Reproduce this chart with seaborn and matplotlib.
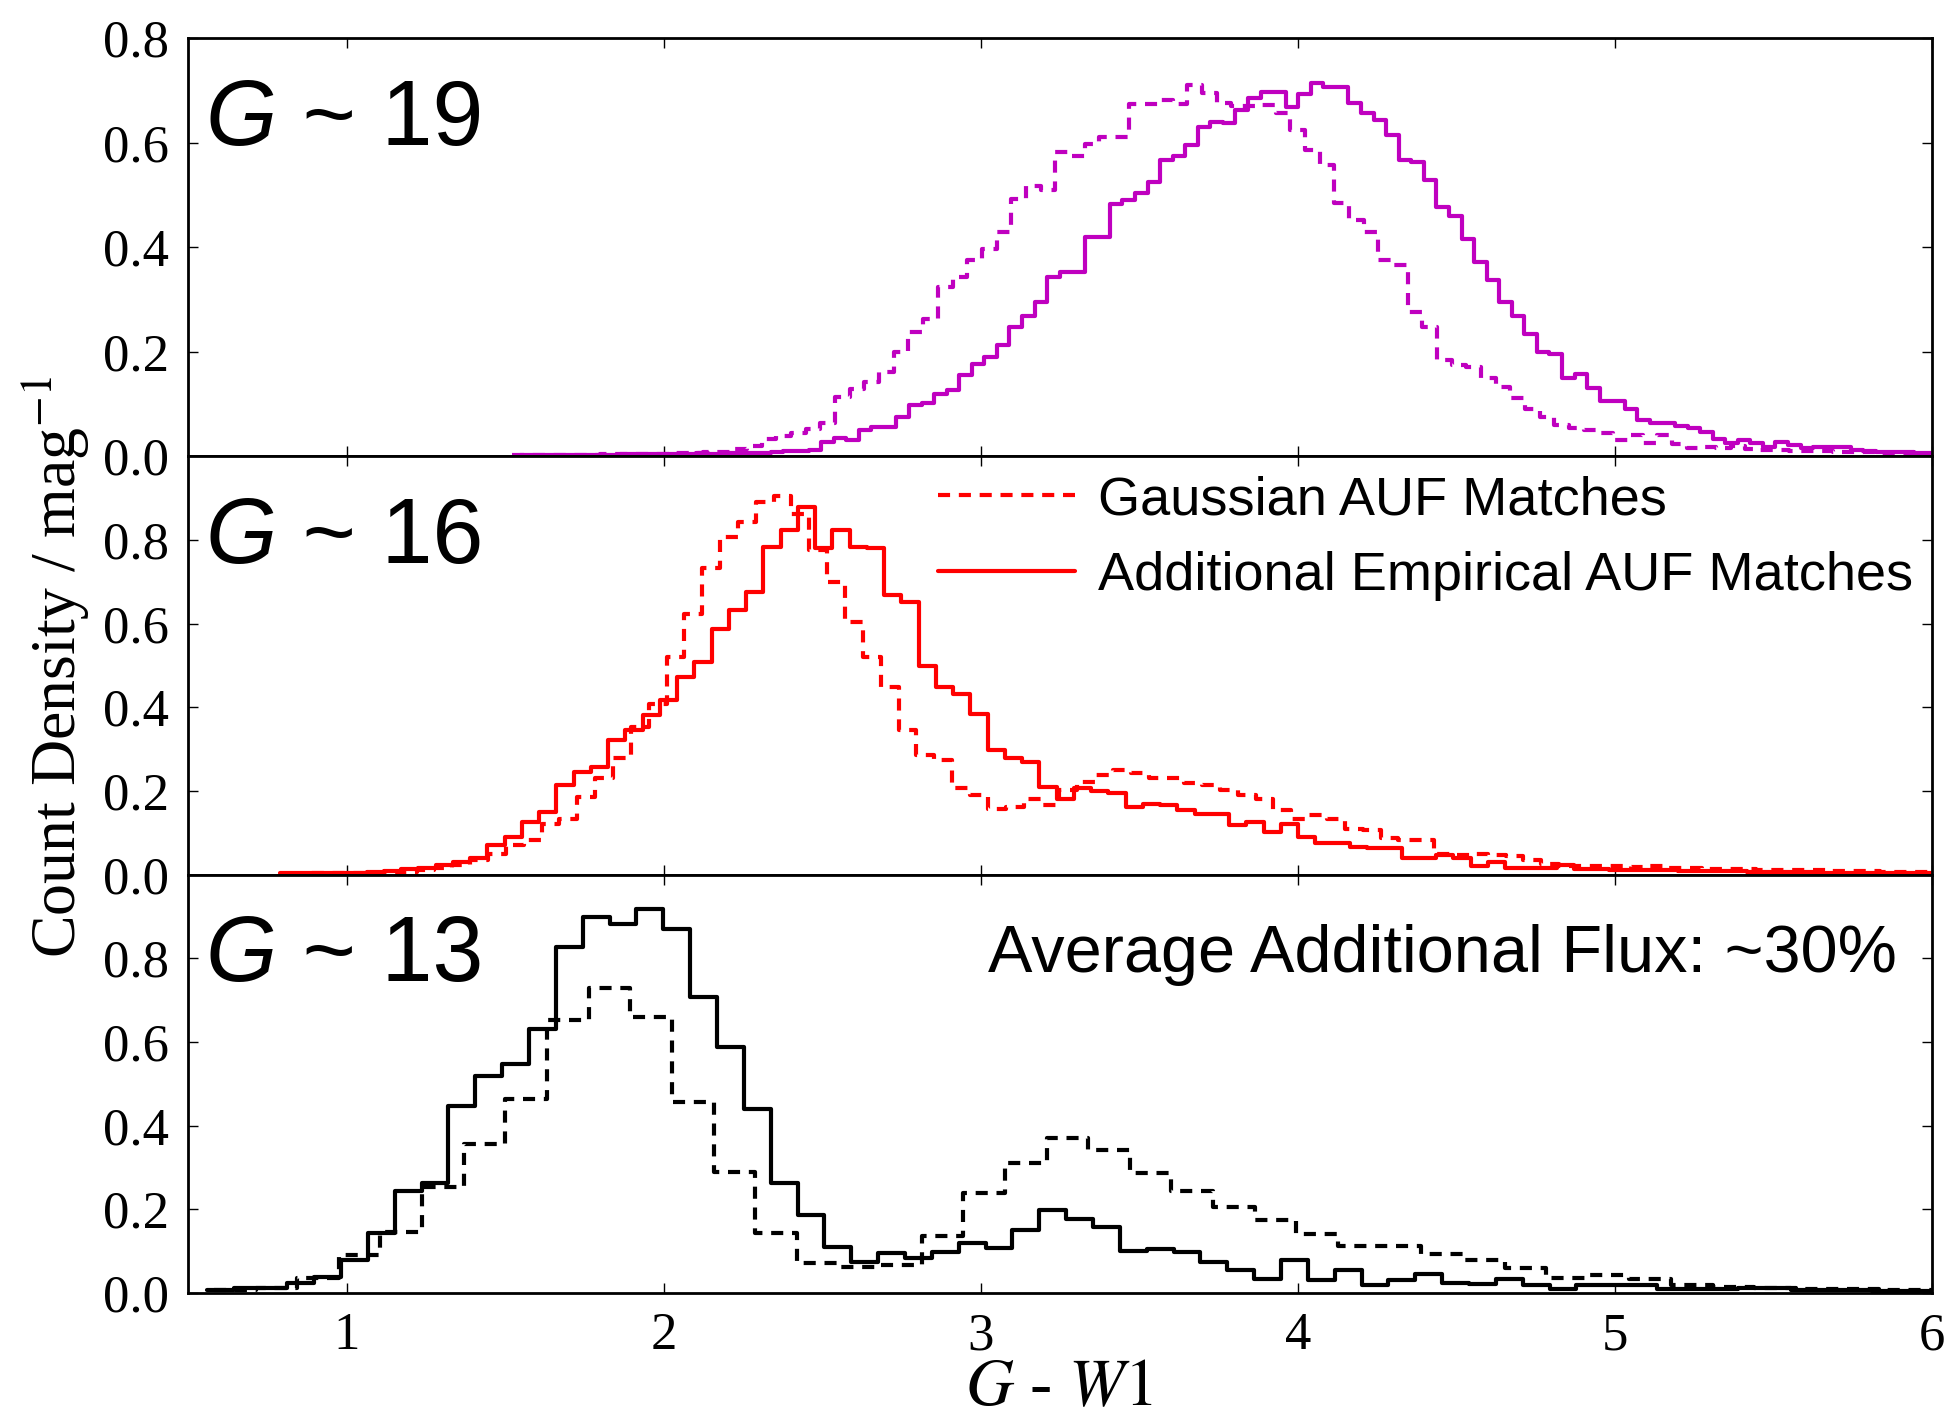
import numpy as np
import pandas as pd
import matplotlib
matplotlib.use("Agg")
import matplotlib.pyplot as plt
from matplotlib.lines import Line2D
import seaborn as sns

# ---------------- data ----------------
x_ticks = [1, 2, 3, 4, 5, 6]
y_ticks = [0.0, 0.2, 0.4, 0.6, 0.8]
panel_mags = ["19", "16", "13"]
legend_labels = ["Gaussian AUF Matches", "Additional Empirical AUF Matches"]
flux_note = "Average Additional Flux: ~30%"

# G ~ 19, additional empirical AUF matches (solid)
g19_emp_start, g19_emp_width = 1.5462, 0.0396
g19_emp = [0.002, 0.002, 0.002, 0.003, 0.002, 0.003, 0.003, 0.003, 0.004,
           0.004, 0.004, 0.005, 0.004, 0.005, 0.006, 0.005, 0.006,
           0.007, 0.006, 0.007, 0.008,
           0.010, 0.011, 0.012,
           0.027, 0.036, 0.032, 0.050, 0.056, 0.057, 0.075, 0.098, 0.102, 0.120,
           0.126, 0.155, 0.177, 0.190,
           0.212, 0.247, 0.268, 0.295, 0.343, 0.353, 0.353, 0.419, 0.419, 0.482,
           0.490, 0.503, 0.525, 0.567, 0.574, 0.595, 0.630, 0.640, 0.637, 0.663,
           0.686, 0.697, 0.697, 0.669, 0.692, 0.713, 0.707, 0.707, 0.676, 0.657,
           0.644, 0.614, 0.567, 0.563, 0.528, 0.477, 0.460, 0.415, 0.372, 0.337,
           0.295, 0.268, 0.233, 0.200, 0.195, 0.149, 0.157, 0.130, 0.106, 0.106,
           0.091, 0.069, 0.064, 0.064, 0.058, 0.054, 0.047, 0.034, 0.025, 0.031,
           0.025, 0.018, 0.028, 0.022, 0.015, 0.018, 0.018, 0.018, 0.013, 0.010,
           0.009, 0.009, 0.008, 0.007, 0.006]

# G ~ 19, Gaussian AUF matches (dashed)
g19_gau_start, g19_gau_width = 1.5221, 0.0463
g19_gau = [0.002, 0.002, 0.003, 0.002, 0.003, 0.003, 0.004, 0.004, 0.004, 0.005,
           0.005, 0.006, 0.007,
           0.008, 0.009, 0.014, 0.019, 0.033, 0.039, 0.044, 0.053, 0.063, 0.114,
           0.129, 0.142, 0.161, 0.200, 0.238, 0.262, 0.324, 0.343, 0.376, 0.397,
           0.429, 0.493, 0.517, 0.510, 0.582, 0.574, 0.598, 0.611, 0.611, 0.674,
           0.673, 0.681, 0.673, 0.710, 0.694, 0.675, 0.670, 0.670, 0.672, 0.656,
           0.625, 0.586, 0.557, 0.484, 0.452, 0.429, 0.376, 0.366, 0.276, 0.247,
           0.184, 0.175, 0.170, 0.149, 0.133, 0.111, 0.091, 0.076, 0.059, 0.055,
           0.050, 0.044, 0.031, 0.041, 0.025, 0.041, 0.024, 0.016, 0.018, 0.015,
           0.019, 0.014, 0.013, 0.012, 0.011, 0.010, 0.010, 0.009, 0.008, 0.008,
           0.007, 0.006, 0.006, 0.005]

# G ~ 16, additional empirical AUF matches (solid)
g16_emp_start, g16_emp_width = 0.7912, 0.0544
g16_emp = [0.003, 0.003, 0.004, 0.004, 0.005, 0.006, 0.008,
           0.013, 0.016, 0.024, 0.030, 0.039, 0.070, 0.090, 0.126, 0.150, 0.214,
           0.246, 0.258, 0.321, 0.345, 0.381, 0.417, 0.473, 0.509, 0.588, 0.632,
           0.676, 0.783, 0.825, 0.880, 0.782, 0.825, 0.784, 0.782, 0.668, 0.652,
           0.500, 0.449, 0.433, 0.385, 0.297, 0.278, 0.270, 0.210, 0.182, 0.208,
           0.200, 0.196, 0.162, 0.170, 0.166, 0.155, 0.146, 0.146, 0.118, 0.126,
           0.102, 0.120, 0.090, 0.076, 0.076, 0.067, 0.064, 0.064, 0.039, 0.039,
           0.047, 0.039, 0.020, 0.030, 0.016, 0.016, 0.016, 0.022, 0.014, 0.014,
           0.012, 0.011, 0.010, 0.010, 0.009, 0.009, 0.008, 0.008, 0.007, 0.007,
           0.006, 0.006, 0.005, 0.005, 0.005, 0.004, 0.004, 0.004, 0.003]

# G ~ 16, Gaussian AUF matches (dashed)
g16_gau_start, g16_gau_width = 0.8268, 0.0563
g16_gau = [0.002, 0.003, 0.003, 0.004, 0.004, 0.005, 0.007,
           0.010, 0.015, 0.022, 0.035, 0.050, 0.070, 0.083, 0.120, 0.134, 0.186,
           0.230, 0.278, 0.353, 0.409, 0.520, 0.622, 0.734, 0.807, 0.843, 0.891,
           0.904, 0.863, 0.775, 0.700, 0.604, 0.520, 0.449,
           0.347, 0.286, 0.274, 0.206, 0.190, 0.158, 0.162, 0.182, 0.166, 0.202,
           0.222, 0.238, 0.250, 0.242, 0.230, 0.230, 0.219, 0.214, 0.202, 0.190,
           0.180, 0.154, 0.134, 0.142, 0.132, 0.110, 0.106, 0.087, 0.083, 0.083,
           0.050, 0.046, 0.050, 0.046, 0.044, 0.034, 0.026, 0.020, 0.020, 0.020,
           0.020, 0.019, 0.020, 0.017, 0.015, 0.014, 0.014, 0.013, 0.012, 0.011,
           0.010, 0.010, 0.009, 0.008, 0.008, 0.007, 0.006, 0.006]

# G ~ 13, additional empirical AUF matches (solid)
g13_emp_start, g13_emp_width = 0.5590, 0.0847
g13_emp = [0.008, 0.011, 0.011, 0.025, 0.039, 0.079, 0.143, 0.245, 0.262, 0.447,
           0.519, 0.547, 0.632, 0.828, 0.898, 0.883, 0.919, 0.869,
           0.708, 0.589, 0.439, 0.264, 0.186, 0.111, 0.075, 0.095, 0.083, 0.099,
           0.120, 0.107, 0.151, 0.198, 0.178, 0.157, 0.101, 0.104, 0.099, 0.075,
           0.055, 0.033, 0.079, 0.030, 0.056, 0.018, 0.030, 0.045, 0.025, 0.022,
           0.033, 0.018, 0.010, 0.018, 0.018, 0.018, 0.010, 0.010, 0.010, 0.012,
           0.012, 0.008, 0.006, 0.006, 0.005, 0.005, 0.004]

# G ~ 13, Gaussian AUF matches (dashed)
g13_gau_start, g13_gau_width = 0.5817, 0.1313
g13_gau = [0.006, 0.012, 0.035, 0.090, 0.147, 0.254, 0.356, 0.463, 0.652, 0.728,
           0.660,
           0.457, 0.290, 0.143, 0.071, 0.063, 0.067, 0.136, 0.240, 0.311, 0.370,
           0.343, 0.288, 0.245, 0.205, 0.174, 0.141, 0.112, 0.112, 0.093, 0.080,
           0.059, 0.037, 0.042, 0.033, 0.019, 0.015, 0.012, 0.010, 0.010, 0.008,
           0.007]

panel_colors = ["#bf00bf", "#ff0000", "#000000"]
panel_ymax = [0.8, 1.0, 1.0]

# ---------------- style ----------------
sns.set_style("ticks")
plt.rcParams["font.family"] = ["Liberation Serif", "DejaVu Serif"]
plt.rcParams["mathtext.fontset"] = "stix"
plt.rcParams["axes.linewidth"] = 2.0
for key in ["text.color", "axes.labelcolor", "xtick.color", "ytick.color",
            "axes.edgecolor"]:
    plt.rcParams[key] = "black"

SANS = ["Liberation Sans", "DejaVu Sans"]
LW = 3.0
DASH = (0, (2.9, 2.1))

fig = plt.figure(figsize=(19.54, 14.2), dpi=100)
left, right = 188 / 1954, 1932 / 1954
top, bottom = 1 - 38 / 1420, 1 - 1293 / 1420
gs = fig.add_gridspec(3, 1, left=left, right=right, top=top, bottom=bottom, hspace=0)
axes = [fig.add_subplot(gs[i]) for i in range(3)]


def draw_hist(ax, start, width, vals, color, ls):
    vals = np.asarray(vals, dtype=float)
    edges = start + width * np.arange(len(vals) + 1)
    centers = 0.5 * (edges[:-1] + edges[1:])
    df = pd.DataFrame({"colour": centers, "density": vals})
    sns.histplot(data=df, x="colour", weights="density", bins=list(edges),
                 element="step", fill=False, color=color, linewidth=LW,
                 linestyle=ls, ax=ax)


series = [
    ((g19_gau_start, g19_gau_width, g19_gau), (g19_emp_start, g19_emp_width, g19_emp)),
    ((g16_gau_start, g16_gau_width, g16_gau), (g16_emp_start, g16_emp_width, g16_emp)),
    ((g13_gau_start, g13_gau_width, g13_gau), (g13_emp_start, g13_emp_width, g13_emp)),
]

for i, ax in enumerate(axes):
    gau, emp = series[i]
    c = panel_colors[i]
    draw_hist(ax, *gau, c, DASH)
    draw_hist(ax, *emp, c, "-")
    ax.set_xlim(0.5, 6.0)
    ax.set_ylim(0, panel_ymax[i])
    ax.set_yticks(y_ticks)
    ax.set_yticklabels([f"{v:.1f}" for v in y_ticks])
    ax.set_xticks(x_ticks)
    ax.set_ylabel("")
    ax.set_xlabel("")
    ax.tick_params(direction="in", top=True, right=True, length=7, width=1.0,
                   labelsize=38, pad=14, colors="black")
    if i < 2:
        ax.tick_params(labelbottom=False)
    for sp in ax.spines.values():
        sp.set_visible(True)
        sp.set_linewidth(2.0)
        sp.set_color("black")
    # panel label
    t = ax.text(0.010, 0.745, "G", transform=ax.transAxes, fontsize=66,
                family=SANS, style="italic", ha="left", va="baseline",
                color="black")
    ax.annotate(" ~ " + panel_mags[i], xy=(1, 0), xycoords=t, fontsize=66,
                family=SANS, ha="left", va="bottom", color="black")

axes[2].set_xticklabels([str(v) for v in x_ticks])

# legend in middle panel
handles = [Line2D([], [], color=panel_colors[1], lw=LW, ls=DASH),
           Line2D([], [], color=panel_colors[1], lw=LW, ls="-")]
leg = axes[1].legend(handles, legend_labels, loc="upper right",
                     bbox_to_anchor=(1.0, 1.0), frameon=False,
                     prop={"family": SANS, "size": 39},
                     handlelength=2.53, handletextpad=0.43, labelspacing=0.47,
                     borderpad=0.35, borderaxespad=0.0, labelcolor="black")

# annotation in bottom panel
axes[2].text(0.98, 0.767, flux_note, transform=axes[2].transAxes, fontsize=48,
             family=SANS, ha="right", va="baseline", color="black")

fig.text(56 / 1954, 1 - 667 / 1420, r"Count Density / mag$^{-1}$", rotation=90,
         ha="center", va="center", fontsize=46, color="black")
fig.text(1059 / 1954, 1 - 1389 / 1420, r"$G$ - $W1$", ha="center", va="center",
         fontsize=48, color="black")

fig.savefig("out.png", dpi=100)
